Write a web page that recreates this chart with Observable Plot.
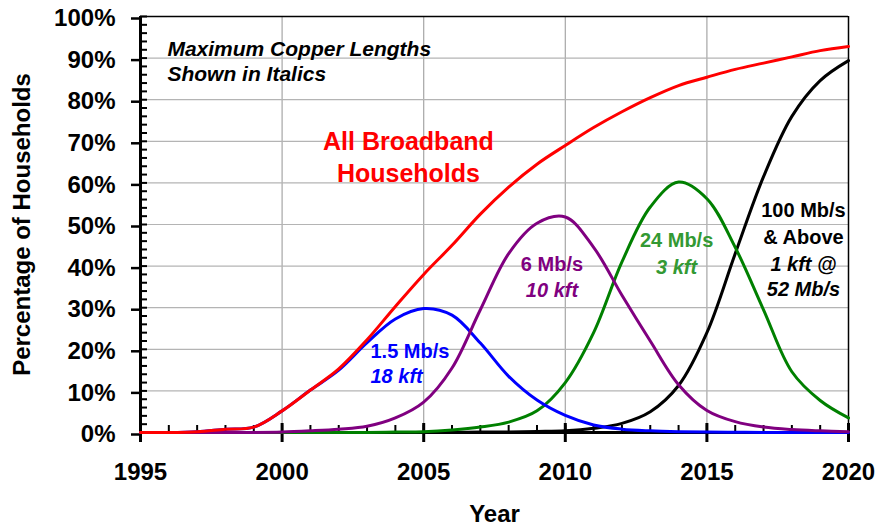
<!DOCTYPE html>
<html><head><meta charset="utf-8">
<script src="https://cdn.jsdelivr.net/npm/d3@7"></script>
<script src="https://cdn.jsdelivr.net/npm/@observablehq/plot@0.6"></script>
<style>body{margin:0;background:#fff}</style>
</head><body><div id="chart"></div>
<script>
const years = [1995,1996,1997,1998,1999,2000,2001,2002,2003,2004,2005,2006,2007,2008,2009,2010,2011,2012,2013,2014,2015,2016,2017,2018,2019,2020];
const allBroadband = [0,0,0.2,0.8,1.3,5.2,10.2,15.3,22.3,30.3,38,45,52.5,59,64.5,69,73.3,77.1,80.5,83.4,85.4,87.3,88.8,90.3,91.8,92.8];
const mbps1_5 = [0,0,0.2,0.8,1.3,5.2,10.2,15,21.6,27.3,29.8,28.2,21.5,13.5,7.8,4.1,1.8,0.8,0.4,0.2,0.1,0.05,0,0,0,0];
const mbps6 = [0,0,0,0,0,0.1,0.4,0.8,1.5,3.5,7.3,15.5,29.5,43,50.3,51.8,44.5,33,22,11.5,5.3,2.6,1.3,0.7,0.4,0.2];
const mbps24 = [0,0,0,0,0,0,0,0,0,0.1,0.2,0.6,1.3,2.5,5.2,12,24,41,54.2,60.2,56.2,44.5,29.5,14.6,7.7,3.5];
const mbps100 = [0,0,0,0,0,0,0,0,0,0,0,0.05,0.1,0.15,0.25,0.4,1.0,2.2,5,11.3,24,43,61.5,76,84.6,89.4];
const yTicks = [0,10,20,30,40,50,60,70,80,90,100];
const xTicks = [1995,2000,2005,2010,2015,2020];

const series = [
  {values: mbps100, color: "#000000"},
  {values: mbps24, color: "#008000"},
  {values: mbps1_5, color: "#0000ff"},
  {values: mbps6, color: "#800080"},
  {values: allBroadband, color: "#ff0000"}
];

const FONT = "'Liberation Sans', Arial, Helvetica, sans-serif";
const note = (text, x, y, fill, opts = {}) => Plot.text([{x, y, text}], {
  x: "x", y: "y", text: "text", fill,
  fontFamily: FONT, fontWeight: "bold", fontStyle: opts.italic ? "italic" : "normal",
  fontSize: opts.size || 20, textAnchor: opts.anchor || "middle", lineAnchor: "bottom"
});

const chart = Plot.plot({
  width: 879, height: 527,
  marginLeft: 140, marginRight: 31, marginTop: 16, marginBottom: 95,
  style: {fontFamily: FONT, color: "black", background: "white"},
  x: {domain: [1995, 2020], axis: null},
  y: {domain: [0, 100], axis: null},
  marks: [
    Plot.gridX([2000, 2005, 2010, 2015], {stroke: "#a6a6a6", strokeOpacity: 1, strokeWidth: 1.2}),
    Plot.gridY(yTicks.slice(1, -1), {stroke: "#b4b4b4", strokeOpacity: 1, strokeWidth: 1.2}),
    Plot.ruleY([100], {stroke: "black", strokeWidth: 1.5}),
    Plot.ruleX([2020], {stroke: "black", strokeWidth: 1.5}),
    Plot.ruleX([1995], {stroke: "black", strokeWidth: 3}),
    Plot.ruleY([0], {stroke: "black", strokeWidth: 3}),
    // y axis ticks
    Plot.axisY({ticks: yTicks, tickSize: 9, tickPadding: 16, tickFormat: d => d + "%",
      fontSize: 24, fontWeight: "bold", strokeWidth: 2.5, dy: 2, label: null}),
    Plot.axisY({ticks: d3.range(0, 101, 2), tickSize: -7, tickFormat: () => "", strokeWidth: 2, label: null}),
    // x axis ticks
    Plot.axisX({ticks: xTicks, tickSize: 10, tickPadding: 20, tickFormat: d => String(d),
      fontSize: 24, fontWeight: "bold", strokeWidth: 3, label: null}),
    Plot.axisX({ticks: xTicks, tickSize: -9, tickFormat: () => "", strokeWidth: 3, label: null}),
    Plot.axisX({ticks: years, tickSize: -7, tickFormat: () => "", strokeWidth: 2, label: null}),
    // data lines
    ...series.map(s => Plot.line(years.map((yr, i) => ({year: yr, value: s.values[i]})), {
      x: "year", y: "value", stroke: s.color, strokeWidth: 3, curve: "catmull-rom"
    })),
    // axis titles
    Plot.text(["Percentage of Households"], {frameAnchor: "left", textAnchor: "middle", rotate: -90, dx: -118,
      fontSize: 24, fontWeight: "bold", fontFamily: FONT, fill: "black"}),
    Plot.text(["Year"], {frameAnchor: "bottom", dy: 89, lineAnchor: "bottom",
      fontSize: 24, fontWeight: "bold", fontFamily: FONT, fill: "black"}),
    // annotations
    note("Maximum Copper Lengths", 1995.95, 90.6, "black", {italic: true, anchor: "start", size: 21}),
    note("Shown in Italics", 1995.95, 84.4, "black", {italic: true, anchor: "start", size: 21}),
    note("All Broadband", 2004.46, 67.8, "#ff0000", {size: 25}),
    note("Households", 2004.46, 60.1, "#ff0000", {size: 25}),
    note("1.5 Mb/s", 2003.12, 17.8, "#0000ff", {anchor: "start"}),
    note("18 kft", 2003.12, 11.8, "#0000ff", {anchor: "start", italic: true}),
    note("6 Mb/s", 2009.53, 38.9, "#800080"),
    note("10 kft", 2009.53, 32.5, "#800080", {italic: true}),
    note("24 Mb/s", 2013.93, 44.5, "#339933"),
    note("3 kft", 2013.93, 38.2, "#339933", {italic: true}),
    note("100 Mb/s", 2018.41, 51.7, "black"),
    note("& Above", 2018.41, 45.4, "black"),
    note("1 kft @", 2018.41, 38.9, "black", {italic: true}),
    note("52 Mb/s", 2018.41, 32.9, "black", {italic: true})
  ]
});
document.getElementById("chart").appendChild(chart);
</script>
</body></html>
